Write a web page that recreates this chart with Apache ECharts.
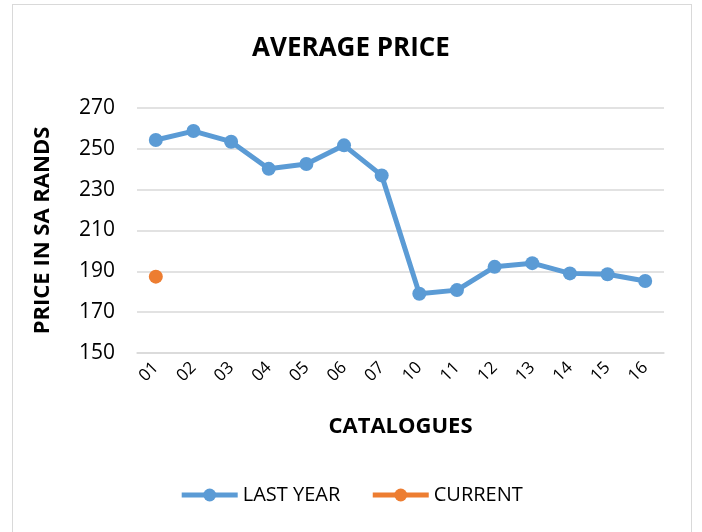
<!DOCTYPE html>
<html>
<head>
<meta charset="utf-8">
<script src="https://cdn.jsdelivr.net/npm/echarts@6/dist/echarts.min.js"></script>
<style>
  html, body { margin: 0; padding: 0; background: #fff; }
  #frame { position: absolute; left: 12px; top: 4px; width: 678px; height: 540px; border: 1px solid #d9d9d9; }
  #main { width: 702px; height: 532px; }
</style>
</head>
<body>
<div id="frame"></div>
<div id="main"></div>
<script>
var catalogues = ['01', '02', '03', '04', '05', '06', '07', '10', '11', '12', '13', '14', '15', '16']
var lastYear = [254.3, 258.7, 253.5, 240.2, 242.6, 251.7, 237.0, 179.0, 180.8, 192.2, 194.0, 189.0, 188.6, 185.3]
var current = [187.4, null, null, null, null, null, null, null, null, null, null, null, null, null]
var yTicks = { min: 150, max: 270, interval: 20 }

var font = '"Open Sans", "Liberation Sans", Arial, sans-serif'
var myChart = echarts.init(document.getElementById('main'))
var option = {
    animation: false,
    textStyle: { fontFamily: font },
    title: {
        text: 'AVERAGE PRICE',
        left: 'center',
        top: 31,
        textStyle: { fontSize: 26, fontWeight: 'bold', color: '#000', fontFamily: font }
    },
    legend: {
        bottom: 22,
        left: 'center',
        itemWidth: 56,
        itemHeight: 16,
        itemGap: 30,
        lineStyle: { width: 5 },
        textStyle: { fontSize: 20, color: '#000', fontFamily: font },
        data: ['LAST YEAR', 'CURRENT']
    },
    grid: { left: 137, right: 38, top: 108, bottom: 179 },
    xAxis: {
        type: 'category',
        data: catalogues,
        name: 'CATALOGUES',
        nameLocation: 'middle',
        nameGap: 63,
        nameTextStyle: { fontSize: 22, fontWeight: 'bold', color: '#000', fontFamily: font },
        axisLine: { lineStyle: { color: '#d9d9d9', width: 1.5 } },
        axisTick: { show: false },
        axisLabel: { rotate: 45, fontSize: 17, color: '#000', margin: 12, fontFamily: font }
    },
    yAxis: {
        type: 'value',
        min: yTicks.min,
        max: yTicks.max,
        interval: yTicks.interval,
        name: 'PRICE IN SA RANDS',
        nameLocation: 'middle',
        nameGap: 83,
        nameTextStyle: { fontSize: 22, fontWeight: 'bold', color: '#000', fontFamily: font },
        axisLine: { show: false },
        axisTick: { show: false },
        axisLabel: { fontSize: 21, color: '#000', margin: 22, fontFamily: font },
        splitLine: { lineStyle: { color: '#d9d9d9', width: 1.5 } }
    },
    series: [{
        name: 'LAST YEAR',
        type: 'line',
        data: lastYear,
        symbol: 'circle',
        symbolSize: 14,
        itemStyle: { color: '#5b9bd5' },
        lineStyle: { width: 5, color: '#5b9bd5' }
    }, {
        name: 'CURRENT',
        type: 'line',
        data: current,
        symbol: 'circle',
        symbolSize: 14,
        itemStyle: { color: '#ed7d31' },
        lineStyle: { width: 5, color: '#ed7d31' }
    }]
}
myChart.setOption(option)
</script>
</body>
</html>
